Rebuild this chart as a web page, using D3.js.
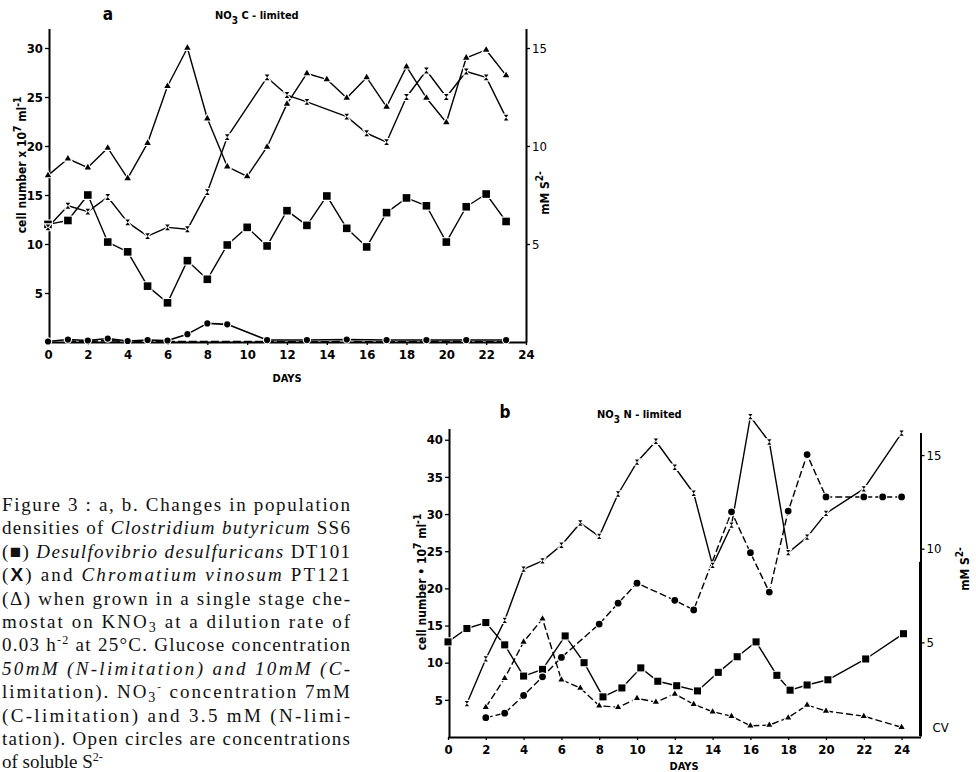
<!DOCTYPE html>
<html><head><meta charset="utf-8">
<script src="https://cdn.jsdelivr.net/npm/d3@7"></script>
<style>body{margin:0;background:#fff}svg{display:block}</style>
</head><body>
<svg id="c" width="976" height="772"></svg>
<script>
// ---------- DATA ----------
const dayTicks = [0,2,4,6,8,10,12,14,16,18,20,22,24];
const aLeftTicks = [5,10,15,20,25,30];
const aRightTicks = [5,10,15];
const bLeftTicks = [5,10,15,20,25,30,35,40];
const bRightTicks = [5,10,15];

// Panel a (NO3 C-limited)
const aTriDays = [0,1,2,3,4,5,6,7,8,9,10,11,12,13,14,15,16,17,18,19,20,21,22,23];
const aTriVals = [17,18.7,17.8,19.8,16.7,20.3,26.1,30,22.8,17.9,16.9,19.9,24.3,27.4,26.8,24.9,27,24,28.1,24.9,22.4,29,29.8,27.2];
const aXDays = [0,1,2,3,4,5,6,7,8,9,11,12,13,15,16,17,18,19,20,21,22,23];
const aXVals = [11.7,13.9,13.3,14.8,12.2,10.8,11.7,11.5,15.3,20.9,27,25.2,24.5,23,21.3,20.4,25,27.7,25,27.6,27,22.9];
const aSqDays = [0,1,2,3,4,5,6,7,8,9,10,11,12,13,14,15,16,17,18,19,20,21,22,23];
const aSqVals = [12,12.4,15,10.2,9.2,5.7,4.0,8.3,6.4,9.9,11.7,9.8,13.4,11.9,14.9,11.6,9.7,13.2,14.7,13.9,10.2,13.8,15.1,12.3];
const aLowDays = [0,1,2,3,4,5,6,7,8,9,11,13,15,17,19,21,23];
const aLowVals = [0.05,0.25,0.15,0.35,0.1,0.2,0.15,0.8,1.9,1.8,0.2,0.2,0.25,0.2,0.2,0.2,0.2];
const aLow2Days = [1,2,3,4,5,6,11,13,15,17,19,21,23];
const aLow2Vals = [0.1,0.05,0.15,0.05,0.05,0.05,0.05,0.0,0.05,0.0,0.05,0.05,0.0];

// Panel b (NO3 N-limited)
const bXDays = [1,2,3,4,5,6,7,8,9,10,11,12,13,14,15,16,17,18,19,20,22,24];
const bXVals = [4.5,10.5,15.7,22.6,23.7,25.8,28.8,27.0,32.7,37.0,39.8,36.3,32.8,23.1,28.5,43.1,39.7,24.8,26.9,30.1,33.4,40.9];
const bCircDays = [2,3,4,5,6,8,9,10,12,13,15,16,17,18,19,20,22,23,24];
const bCircVals = [2.6,3.2,5.6,8.1,10.7,15.2,18,20.7,18.4,17.1,30.3,24.8,19.5,30.4,38,32.3,32.3,32.3,32.3];
const bSqDays = [0,1,2,3,4,5,6.2,7.2,8.2,9.2,10.2,11.1,12.1,13.2,14.3,15.3,16.3,17.4,18.1,19,20.1,22.1,24.1];
const bSqVals = [12.8,14.6,15.4,12.4,8.2,9.1,13.6,10,5.4,6.6,9.3,7.5,6.9,6.2,8.7,10.8,12.8,8.3,6.3,7,7.7,10.5,13.9];
const bTriDays = [2,3,4,5,6,7,8,9,10,11,12,13,14,15,16,17,18,19,20,22,24];
const bTriVals = [4.0,7.9,12.8,15.9,7.7,6.6,4.2,4.0,5.2,4.7,5.8,4.4,3.4,2.8,1.5,1.6,2.6,4.3,3.5,2.8,1.3];

const captionLines = [
  [["Figure 3  :  a, b. Changes in population",""]],
  [["densities of ",""],["Clostridium butyricum","i"],[" SS6",""]],
  [["(■) ",""],["Desulfovibrio desulfuricans","i"],[" DT101",""]],
  [["(",""],["X","b"],[") and ",""],["Chromatium vinosum","i"],[" PT121",""]],
  [["(Δ) when grown in a single stage che-",""]],
  [["mostat on KNO",""],["3","sub"],[" at a dilution rate of",""]],
  [["0.03 h",""],["-2","sup"],[" at 25°C. Glucose concentration",""]],
  [["50mM (N-limitation) and 10mM (C-","i"]],
  [["limitation).  NO",""],["3","sub"],["-","sup2"],[" concentration 7mM",""]],
  [["(C-limitation)  and  3.5  mM  (N-limi-",""]],
  [["tation). Open circles are concentrations",""]],
  [["of soluble S",""],["2-","sup"]]
];

// ---------- DRAWING ----------
const svg = d3.select("#c");
const LF = "'Liberation Sans Narrow','DejaVu Sans Condensed','DejaVu Sans',sans-serif";
const SERIF = "'Liberation Serif','Times New Roman',Tinos,'Nimbus Roman',Times,serif";

const xA = d3.scaleLinear([0,24],[48,526]);
const yA = d3.scaleLinear([0,32],[342,28.4]);
const yAR = d3.scaleLinear([0,16],[342,28.4]);
const xB = d3.scaleLinear([0,25],[448,920.5]);
const yB = d3.scaleLinear([0,41.5],[737,428.6]);
const yBR = d3.scaleLinear([0,16.2],[736,432.6]);

const hourglass = {draw(ctx,size){const r=Math.sqrt(size)/2;ctx.moveTo(-r,-r*1.25);ctx.lineTo(r,-r*1.25);ctx.lineTo(-r,r*1.25);ctx.lineTo(r,r*1.25);ctx.closePath();}};

function styleAxis(g, fs){
  g.select(".domain").attr("stroke","#000").attr("stroke-width",2);
  g.selectAll(".tick line").attr("stroke","#000").attr("stroke-width",1.3);
  g.selectAll(".tick text").attr("font-family",LF).attr("font-weight","bold").attr("font-size",fs).attr("fill","#000");
}

function drawPanel(cfg){
  const g = svg.append("g");
  const ax = g.append("g").attr("transform",`translate(0,${cfg.y(0)})`)
    .call(d3.axisBottom(cfg.x).tickValues(dayTicks).tickSize(3).tickSizeOuter(0).tickPadding(5).tickFormat(d3.format("d")));
  styleAxis(ax,13);
  const ay = g.append("g").attr("transform",`translate(${cfg.x(0)+1},0)`)
    .call(d3.axisLeft(cfg.y).tickValues(cfg.leftTicks).tickSize(4).tickSizeOuter(0).tickPadding(2).tickFormat(d3.format("d")));
  styleAxis(ay,13);
  const ar = g.append("g").attr("transform",`translate(${cfg.rx},0)`)
    .call(d3.axisRight(cfg.yr).tickValues(cfg.rightTicks).tickSize(4).tickSizeOuter(0).tickPadding(2).tickFormat(d3.format("d")));
  styleAxis(ar,13);
  ar.selectAll(".tick text").attr("font-weight","normal");
  const lines = g.append("g"), marks = g.append("g");
  cfg.series.forEach(s=>{
    const line = d3.line().x((d,i)=>cfg.x(s.days[i])).y(d=>cfg.y(d));
    lines.append("path").attr("d",line(s.vals)).attr("fill","none").attr("stroke","#000")
      .attr("stroke-width",s.w||1.4).attr("stroke-dasharray",s.dash||null).attr("stroke-linejoin","round");
    if(s.sym){
      marks.selectAll(null).data(s.vals).join("path")
        .attr("transform",(d,i)=>`translate(${cfg.x(s.days[i])},${cfg.y(d)})`)
        .attr("d",d3.symbol(s.sym,s.size)())
        .attr("fill","#000").attr("stroke","#fff").attr("stroke-width",2.2).attr("paint-order","stroke");
    }
  });
  return g;
}

drawPanel({x:xA,y:yA,yr:yAR,rx:526,leftTicks:aLeftTicks,rightTicks:aRightTicks,series:[
  {days:aLow2Days,vals:aLow2Vals,w:1.6,dash:"8,3"},
  {days:aLowDays,vals:aLowVals,sym:d3.symbolCircle,size:30,w:1.6},
  {days:aSqDays,vals:aSqVals,sym:d3.symbolSquare,size:58},
  {days:aXDays,vals:aXVals,sym:hourglass,size:22},
  {days:aTriDays,vals:aTriVals,sym:d3.symbolTriangle,size:18}
]});

drawPanel({x:xB,y:yB,yr:yBR,rx:xB(25),leftTicks:bLeftTicks,rightTicks:bRightTicks,series:[
  {days:bTriDays,vals:bTriVals,sym:d3.symbolTriangle,size:16,dash:"7,3"},
  {days:bSqDays,vals:bSqVals,sym:d3.symbolSquare,size:50},
  {days:bCircDays,vals:bCircVals,sym:d3.symbolCircle,size:36,dash:"7,3"},
  {days:bXDays,vals:bXVals,sym:hourglass,size:18}
]});
svg.append("line").attr("x1",xB(25)).attr("x2",xB(25)).attr("y1",yBR(0)).attr("y2",yBR(9.3)).attr("stroke","#000").attr("stroke-width",3);
svg.append("text").attr("x",xB(25)+12).attr("y",yBR(0)-4).text("CV")
  .attr("font-family",LF).attr("font-size",13).attr("fill","#000");

// ---------- TEXT LABELS ----------
function txt(x,y,s,o={}){
  return svg.append("text").attr("x",x).attr("y",y).attr("font-family",o.ff||LF)
    .attr("font-weight",o.fw||"bold").attr("font-size",o.fs||12).attr("fill","#000")
    .attr("text-anchor",o.anchor||"start").text(s);
}
txt(108,20,"a",{fs:17,anchor:"middle"});
{ const t=txt(215,19,"NO",{fs:11}); t.append("tspan").attr("dy",5).attr("font-size",10).text("3"); t.append("tspan").attr("dy",-5).text("  C - limited"); }
txt(505,418,"b",{fs:17,anchor:"middle"});
{ const t=txt(597,418,"NO",{fs:11}); t.append("tspan").attr("dy",5).attr("font-size",10).text("3"); t.append("tspan").attr("dy",-5).text("  N - limited"); }
txt(287,382,"DAYS",{fs:11,anchor:"middle"});
txt(684,770,"DAYS",{fs:11,anchor:"middle"});

function rotLabel(x,y,parts,fs){
  const t=svg.append("text").attr("transform",`translate(${x},${y}) rotate(-90)`).attr("text-anchor","middle")
    .attr("font-family",LF).attr("font-weight","bold").attr("font-size",fs).attr("fill","#000");
  parts.forEach(p=>{const ts=t.append("tspan").text(p[0]); if(p[1]) ts.attr("dy",p[1]); if(p[2]) ts.attr("font-size",fs*0.85);});
  return t;
}
rotLabel(26,165,[["cell number x 10"],["7",-5,1],[" ml",5],["-1",-5,1]],12);
rotLabel(426,582,[["cell  number • 10"],["7",-5,1],[" ml",5],["-1",-5,1]],12);
rotLabel(549,193,[["mM S"],["2-",-6,1]],12);
rotLabel(969,569,[["mM S"],["2-",-6,1]],12);

// ---------- CAPTION ----------
const capX = 2, capY0 = 511, capDY = 23.4, capW = 348;
captionLines.forEach((ln,i)=>{
  const t = svg.append("text").attr("x",capX).attr("y",capY0+i*capDY)
    .attr("font-family",SERIF).attr("font-size",19).attr("fill","#111");
  let pend = 0;
  ln.forEach(([s,st])=>{
    const ts=t.append("tspan").text(s);
    let dy = pend; pend = 0;
    if(st==="i") ts.attr("font-style","italic");
    if(st==="b") ts.attr("font-weight","bold").attr("font-family","'Liberation Sans',sans-serif");
    if(st==="sub") { dy += 4; pend = -4; ts.attr("font-size",14); }
    if(st==="sup") { dy += -7; pend = 7; ts.attr("font-size",12); }
    if(st==="sup2") { dy += -8; pend = 8; ts.attr("font-size",11); }
    if(dy) ts.attr("dy",dy);
  });
  if(i < captionLines.length-1) t.attr("textLength",capW).attr("lengthAdjust","spacing");
});
</script>
</body></html>
